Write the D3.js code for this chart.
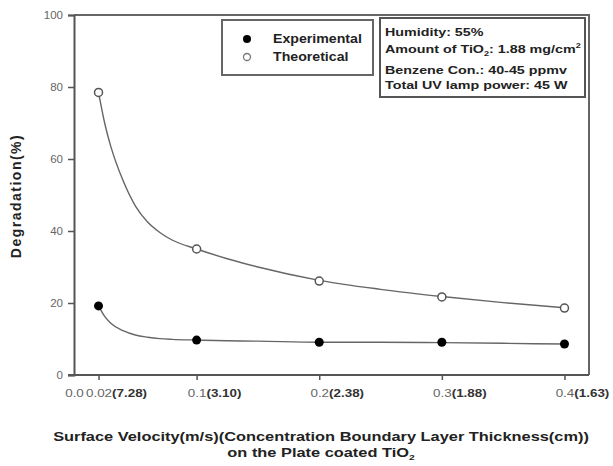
<!DOCTYPE html>
<html lang="en">
<head>
    <meta charset="UTF-8">
    <title>Degradation vs Surface Velocity</title>
    <script src="https://d3js.org/d3.v7.min.js"></script>
    <style>
        body { margin: 0; background: #fff; }
        svg { display: block; font-family: "Liberation Sans", Arial, sans-serif; }
    </style>
</head>
<body>
<div id="chart"></div>
<script>
    // measured points
    const velocity = [0.02, 0.1, 0.2, 0.3, 0.4];
    const experimental = [19.2, 9.7, 9.1, 9.1, 8.6];
    const theoretical = [78.5, 35.0, 26.1, 21.7, 18.6];

    // fitted curves
    const fitX = [0.02, 0.025, 0.03, 0.04, 0.05, 0.06, 0.07, 0.08, 0.1, 0.125, 0.15, 0.2, 0.25, 0.3, 0.35, 0.4];
    const fitExperimental = [19.2, 16.3, 14.4, 12.3, 11.1, 10.5, 10.1, 9.9, 9.7, 9.5, 9.4, 9.1, 9.1, 9.0, 8.8, 8.6];
    const fitTheoretical = [78.5, 70.0, 63.5, 54.0, 47.0, 42.5, 39.6, 37.5, 35.0, 32.3, 30.0, 26.3, 23.8, 21.8, 20.1, 18.7];

    const xTicks = [0, 0.02, 0.1, 0.2, 0.3, 0.4];
    const xTickNums = ["0.0", "0.02", "0.1", "0.2", "0.3", "0.4"];
    const xTickThick = ["", "(7.28)", "(3.10)", "(2.38)", "(1.88)", "(1.63)"];
    const yTicks = [0, 20, 40, 60, 80, 100];

    const legendLabels = ["Experimental", "Theoretical"];
    const infoLines = ["Humidity: 55%", "Amount of TiO2: 1.88 mg/cm2", "Benzene Con.: 40-45 ppmv", "Total UV lamp power: 45 W"];

    const width = 613, height = 466;
    const axisColor = "#555";
    const stretch = 1.28; // text in the picture is drawn wide

    const svg = d3.select("#chart").append("svg")
        .attr("width", width)
        .attr("height", height);

    const x = d3.scaleLinear().domain([0, 0.42]).range([74, 589]);
    const y = d3.scaleLinear().domain([0, 100]).range([375, 15]);

    // rough Arial advance widths, used to place the bold part of the tick labels
    function numWidth(s, size) {
        let w = 0;
        for (const c of s) w += (c === "." ? 0.278 : c === "(" || c === ")" ? 0.333 : 0.556);
        return w * size;
    }

    // wide text at (tx, ty)
    function wideText(tx, ty, sx) {
        return svg.append("g")
            .attr("transform", `translate(${tx},${ty}) scale(${sx},1)`)
            .append("text");
    }

    // frame top / right
    svg.append("path")
        .attr("d", `M${x(0)},${y(100)}H${x(0.42)}V${y(0)}`)
        .attr("fill", "none")
        .attr("stroke", "#666")
        .attr("stroke-width", 2);

    // y axis
    const yAxis = svg.append("g")
        .attr("transform", `translate(${x(0)},0)`)
        .call(d3.axisLeft(y).tickValues(yTicks).tickSize(6).tickPadding(5).tickFormat(d3.format("d")));
    yAxis.select(".domain").attr("stroke", axisColor).attr("stroke-width", 2);
    yAxis.selectAll(".tick line").attr("stroke", axisColor).attr("stroke-width", 1.5);
    yAxis.selectAll(".tick text")
        .attr("font-size", 11.5)
        .attr("fill", "#666")
        .attr("font-family", "Liberation Sans, Arial, sans-serif");

    // x axis
    const xAxis = svg.append("g")
        .attr("transform", `translate(0,${y(0)})`)
        .call(d3.axisBottom(x).tickValues(xTicks).tickSize(5).tickFormat(""));
    xAxis.select(".domain").attr("stroke", axisColor).attr("stroke-width", 2)
        .attr("d", `M${x(0) - 6},0H${x(0.42)}`);
    xAxis.selectAll(".tick line").attr("stroke", axisColor).attr("stroke-width", 1.5)
        .filter(d => d === 0).remove();

    const tickSize = 11;
    xAxis.selectAll(".tick").append("g")
        .attr("transform", `translate(0,22) scale(1.22,1)`)
        .each(function (d, i) {
            const g = d3.select(this);
            g.append("text")
                .attr("text-anchor", "middle")
                .attr("font-size", tickSize)
                .attr("fill", "#666")
                .attr("font-family", "Liberation Sans, Arial, sans-serif")
                .text(xTickNums[i]);
            g.append("text")
                .attr("x", numWidth(xTickNums[i], tickSize) / 2)
                .attr("text-anchor", "start")
                .attr("font-size", tickSize)
                .attr("font-weight", "bold")
                .attr("fill", "#333")
                .attr("font-family", "Liberation Sans, Arial, sans-serif")
                .text(xTickThick[i]);
        });

    // curves
    const line = d3.line()
        .x(d => x(d[0]))
        .y(d => y(d[1]))
        .curve(d3.curveMonotoneX);

    [fitTheoretical, fitExperimental].forEach(fit => {
        svg.append("path")
            .datum(fitX.map((v, i) => [v, fit[i]]))
            .attr("d", line)
            .attr("fill", "none")
            .attr("stroke", "#666")
            .attr("stroke-width", 1.4);
    });

    // markers
    svg.append("g").selectAll("circle")
        .data(velocity.map((v, i) => [v, theoretical[i]]))
        .join("circle")
        .attr("cx", d => x(d[0]))
        .attr("cy", d => y(d[1]))
        .attr("r", 4)
        .attr("fill", "#fff")
        .attr("stroke", "#555")
        .attr("stroke-width", 1.5);

    svg.append("g").selectAll("circle")
        .data(velocity.map((v, i) => [v, experimental[i]]))
        .join("circle")
        .attr("cx", d => x(d[0]))
        .attr("cy", d => y(d[1]))
        .attr("r", 4.5)
        .attr("fill", "#000");

    // legend
    svg.append("rect")
        .attr("x", 222).attr("y", 20)
        .attr("width", 151).attr("height", 55)
        .attr("fill", "#fff")
        .attr("stroke", "#666")
        .attr("stroke-width", 2);
    legendLabels.forEach((label, i) => {
        const cy = 39 + i * 18;
        svg.append("circle")
            .attr("cx", 247).attr("cy", cy)
            .attr("r", i === 0 ? 4 : 3.5)
            .attr("fill", i === 0 ? "#000" : "#fff")
            .attr("stroke", i === 0 ? "none" : "#777")
            .attr("stroke-width", 1.3);
        wideText(273, cy + 4, 1.18)
            .attr("font-size", 12)
            .attr("font-weight", "bold")
            .attr("fill", "#222")
            .text(label);
    });

    // info box
    svg.append("rect")
        .attr("x", 380).attr("y", 18)
        .attr("width", 205).attr("height", 79)
        .attr("fill", "#fff")
        .attr("stroke", "#555")
        .attr("stroke-width", 2);
    const infoY = [36, 53, 74, 89];
    infoLines.forEach((t, i) => {
        const txt = wideText(385, infoY[i], 1.3)
            .attr("font-size", 11)
            .attr("font-weight", "bold")
            .attr("fill", "#222");
        if (i === 1) {
            txt.append("tspan").text("Amount of TiO");
            txt.append("tspan").attr("font-size", 7).attr("dy", 3).text("2");
            txt.append("tspan").attr("dy", -3).text(": 1.88 mg/cm");
            txt.append("tspan").attr("font-size", 7).attr("dy", -5).text("2");
        } else {
            txt.text(t);
        }
    });

    // axis titles
    svg.append("text")
        .attr("transform", `translate(21,${(y(0) + y(100)) / 2 + 1}) rotate(-90)`)
        .attr("text-anchor", "middle")
        .attr("font-size", 14)
        .attr("font-weight", "bold")
        .attr("letter-spacing", 1.5)
        .attr("fill", "#222")
        .text("Degradation(%)");

    wideText(321, 441, stretch)
        .attr("text-anchor", "middle")
        .attr("font-size", 12.8)
        .attr("font-weight", "bold")
        .attr("fill", "#222")
        .text("Surface Velocity(m/s)(Concentration Boundary Layer Thickness(cm))");

    const t2 = wideText(321, 457, stretch)
        .attr("text-anchor", "middle")
        .attr("font-size", 12.8)
        .attr("font-weight", "bold")
        .attr("fill", "#222");
    t2.append("tspan").text("on the Plate coated TiO");
    t2.append("tspan").attr("font-size", 8).attr("dy", 3).text("2");
</script>
</body>
</html>
